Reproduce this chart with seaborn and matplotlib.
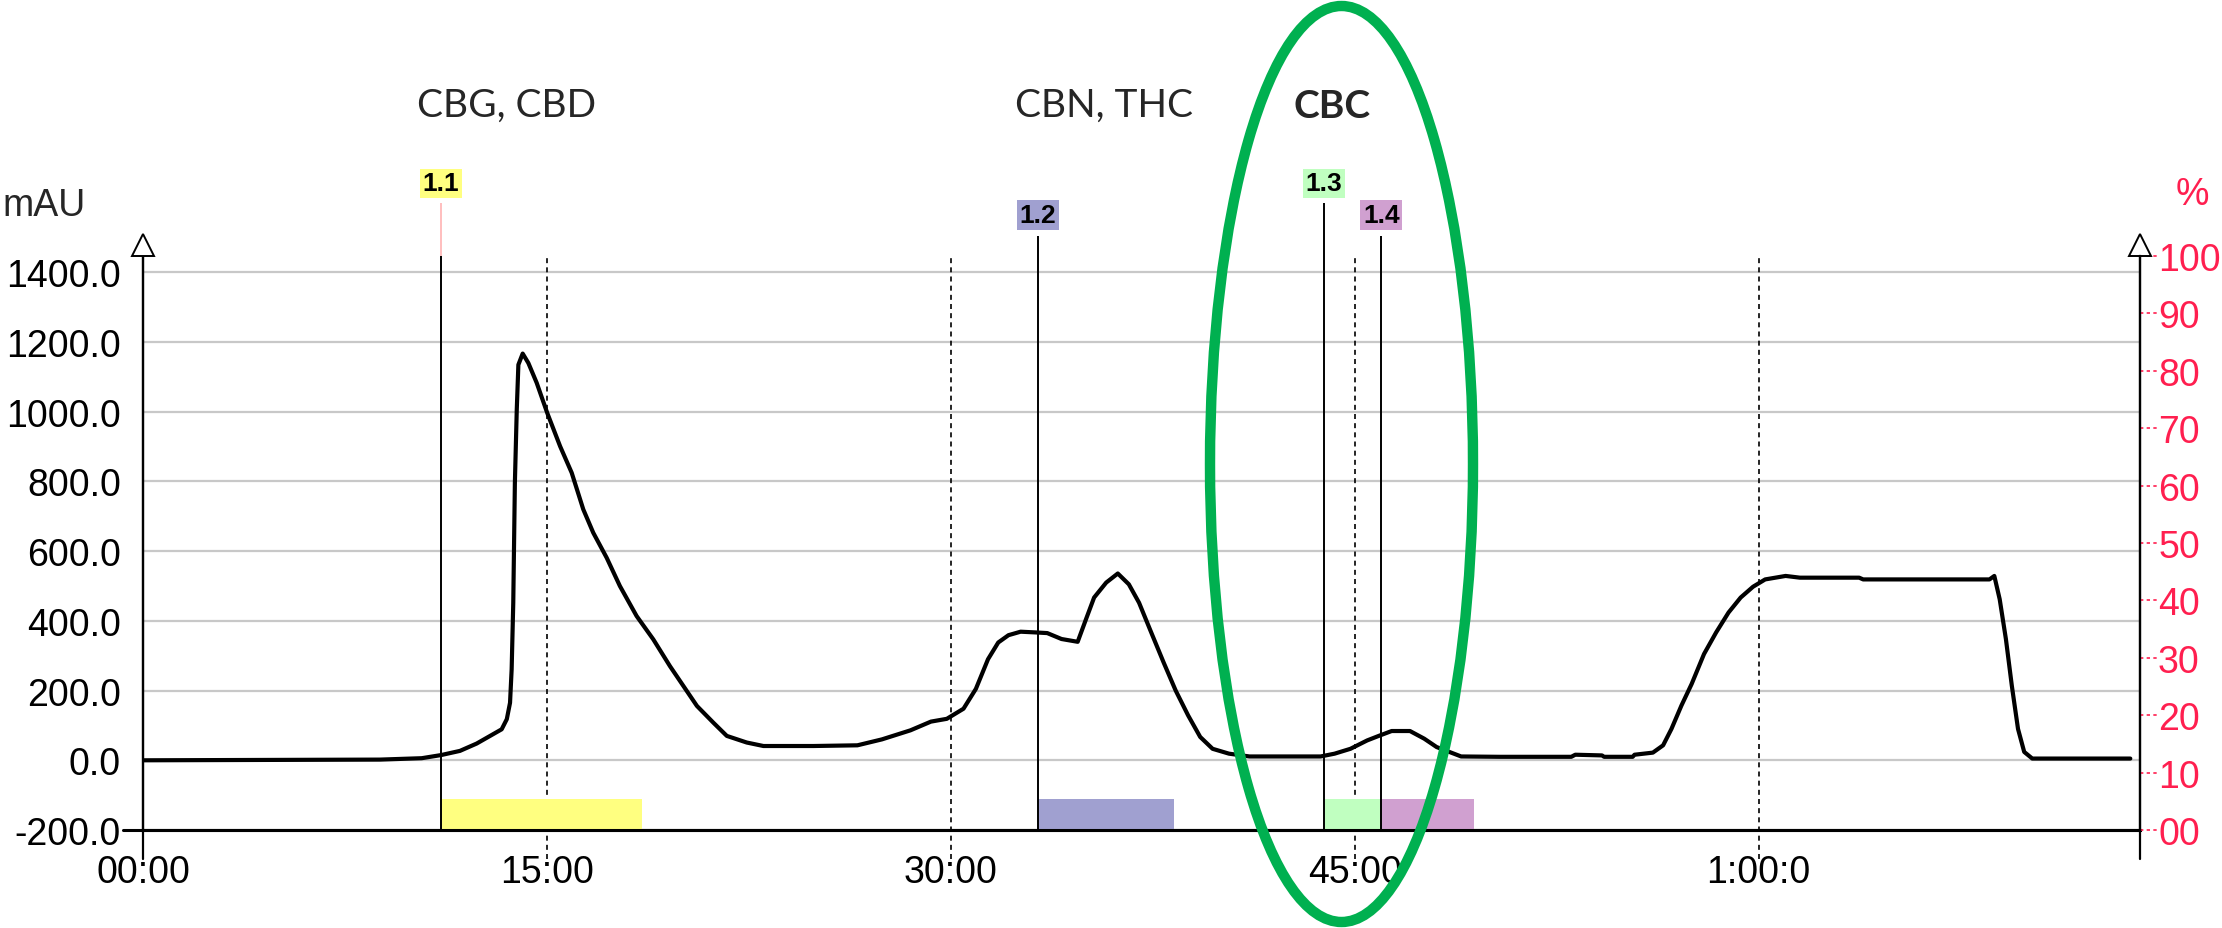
import matplotlib
matplotlib.use('Agg')
import matplotlib.pyplot as plt
import seaborn as sns
import pandas as pd
from matplotlib.patches import Ellipse
from matplotlib.transforms import offset_copy

# chromatogram trace (minutes, mAU)
minutes = [0, 8.8, 10.35, 11.07, 11.77, 12.39, 12.89, 13.32, 13.51, 13.63, 13.69, 13.75,
           13.81, 13.88, 13.94, 14.10, 14.31, 14.62, 15.01, 15.49, 15.92, 16.35, 16.72,
           17.22, 17.71, 18.33, 18.95, 19.57, 20.07, 20.57, 21.18, 21.68, 22.42, 23.04,
           24.90, 26.53, 27.44, 28.50, 29.26, 29.85, 30.47, 30.93, 31.38, 31.76, 32.14,
           32.59, 33.12, 33.58, 34.11, 34.71, 35.02, 35.32, 35.77, 36.20, 36.61, 36.99,
           37.44, 37.90, 38.35, 38.81, 39.26, 39.72, 40.33, 41.09, 43.73, 44.25, 44.84,
           45.46, 45.89, 46.37, 47.05, 47.58, 48.04, 48.95, 50.39, 53.04, 53.19, 54.18,
           54.26, 55.32, 55.39, 56.07, 56.45, 56.76, 57.13, 57.51, 57.97, 58.42, 58.88,
           59.33, 59.79, 60.24, 61.00, 61.53, 63.73, 63.88, 68.57, 68.75, 68.95, 69.18,
           69.40, 69.63, 69.86, 70.16, 73.80]
mau = [0, 2, 6, 15, 27, 48, 70, 89, 118, 165, 261, 452,
       796, 1006, 1135, 1167, 1140, 1083, 997, 901, 825, 720, 653,
       581, 500, 414, 347, 270, 213, 156, 108, 70, 51, 41,
       41, 43, 60, 86, 111, 119, 148, 205, 290, 338, 359,
       369, 367, 365, 348, 340, 405, 467, 510, 536, 505, 452,
       367, 281, 200, 129, 67, 33, 19, 11, 11, 19, 33,
       57, 70, 84, 84, 62, 38, 11, 10, 10, 16, 14,
       10, 10, 16, 22, 43, 90, 157, 219, 305, 367, 424,
       467, 498, 519, 529, 524, 524, 519, 519, 529, 462, 348,
       214, 90, 24, 5, 5]

# peaks / fractions
peak_names = ['1.1', '1.2', '1.3', '1.4']
peak_start = [11.07, 33.22, 43.84, 45.99]
peak_end = [18.53, 38.30, 45.99, 49.44]
peak_colors = ['#FFFF80', '#A0A0D0', '#C0FFC0', '#D0A0D0']
label_level = [1656, 1565, 1656, 1565]
line_top = [1600, 1505, 1600, 1505]

x_ticks = [0, 15, 30, 45, 60]
x_labels = ['00:00', '15:00', '30:00', '45:00', '1:00:0']
y_ticks = [-200, 0, 200, 400, 600, 800, 1000, 1200, 1400]
pct_ticks = [0, 10, 20, 30, 40, 50, 60, 70, 80, 90, 100]
pct_labels = ['00', '10', '20', '30', '40', '50', '60', '70', '80', '90', '100']

compounds = ['CBG, CBD', 'CBN, THC', 'CBC']

sns.set_theme(style='white')
plt.rcParams['font.family'] = ['Liberation Sans', 'DejaVu Sans']
red = '#FF1F4F'
x_max = 74.16
y_min, y_max = -200, 1447

fig = plt.figure(figsize=(22.22, 9.29), dpi=100)
ax = fig.add_axes([0.064356, 0.10549, 0.89874, 0.61787])

df = pd.DataFrame({'minutes': minutes, 'mAU': mau})
sns.lineplot(data=df, x='minutes', y='mAU', ax=ax, color='black', lw=3.0, zorder=5)

ax.set_xlim(0, x_max)
ax.set_ylim(y_min, y_max)
ax.set_xticks(x_ticks)
ax.set_xticklabels(x_labels)
ax.set_yticks(y_ticks)
ax.set_yticklabels([f'{v:.1f}' for v in y_ticks])
ax.set_xlabel('')
ax.set_ylabel('')
ax.tick_params(axis='x', length=0, pad=17, labelsize=27, colors='black')
ax.tick_params(axis='y', length=0, pad=16, labelsize=27, colors='black')
ax.yaxis.grid(True, color='#C8C8C8', lw=1.6)
ax.xaxis.grid(False)
for s in ['top', 'right']:
    ax.spines[s].set_visible(False)
ax.spines['left'].set_color('black')
ax.spines['left'].set_linewidth(1.6)
ax.spines['bottom'].set_color('black')
ax.spines['bottom'].set_linewidth(2.2)

# axis extensions below / left
ax.axvline(0, ymin=-0.05, ymax=1, color='black', lw=1.6, clip_on=False)
ax.axvline(x_max, ymin=-0.05, ymax=1, color='black', lw=1.6, clip_on=False)
ax.axhline(y_min, xmin=-0.01, xmax=1, color='black', lw=2.2, clip_on=False)
for t in x_ticks[1:]:
    ax.axvline(t, ymin=-0.05, ymax=1, color='black', lw=1.2, ls=(0, (3, 2.5)), clip_on=False)

# fraction bars and peak markers
for name, s, e, c, lv, top in zip(peak_names, peak_start, peak_end, peak_colors,
                                   label_level, line_top):
    ax.bar(s, -112 - y_min, width=e - s, bottom=y_min, align='edge', color=c,
           edgecolor='none', zorder=2)
    if name == '1.1':
        ax.vlines(s, y_min, y_max, color='black', lw=1.4, zorder=4)
        ax.vlines(s, y_max, top, color='#FFB3B3', lw=1.2, clip_on=False)
    else:
        ax.vlines(s, y_min, top, color='black', lw=1.4, zorder=4, clip_on=False)
    ax.text(s, lv, name, ha='center', va='center', fontsize=19, fontweight='bold',
            color='black', bbox=dict(boxstyle='square,pad=0.1', fc=c, ec='none'))

# right percentage axis
ax2 = ax.twinx()
ax2.set_ylim(0, 100)
ax2.set_yticks(pct_ticks)
ax2.set_yticklabels(pct_labels)
ax2.tick_params(axis='y', length=0, pad=13, labelsize=27, labelcolor=red)
ax2.grid(False)
for s in ['top', 'left', 'bottom']:
    ax2.spines[s].set_visible(False)
ax2.spines['right'].set_color('black')
ax2.spines['right'].set_linewidth(1.6)
ax2.hlines(pct_ticks, 1.0, 1.0085, transform=ax2.get_yaxis_transform(), colors=red,
           lw=1.2, linestyles=(0, (2, 2)), clip_on=False)

# open arrow heads on top of both axes
tri = offset_copy(ax.transAxes, fig=fig, y=11, units='dots')
for xa in [0, 1]:
    ax2.plot([xa], [1], marker='^', ms=16, mfc='white', mec='black', mew=1.4,
             transform=tri, clip_on=False)

fig.text(0.001, 1 - 206 / 929, 'mAU', ha='left', va='center', fontsize=27)
fig.text(2192 / 2222, 1 - 195 / 929, '%', ha='center', va='center', fontsize=27, color=red)

# compound annotations
comp_x = [507, 1104, 1332]
for name, xp in zip(compounds, comp_x):
    fig.text(xp / 2222, 1 - 106 / 929, name, ha='center', va='center', fontsize=28,
             family=['Lato', 'DejaVu Sans'],
             fontweight='bold' if name == 'CBC' else 'normal')

# highlight ellipse round CBC
fig.add_artist(Ellipse((1341.5 / 2222, 1 - 465 / 929), width=263 / 2222, height=916 / 929,
                       transform=fig.transFigure, fill=False, edgecolor='#00B050', lw=7.5))

fig.savefig('out.png', dpi=100)
